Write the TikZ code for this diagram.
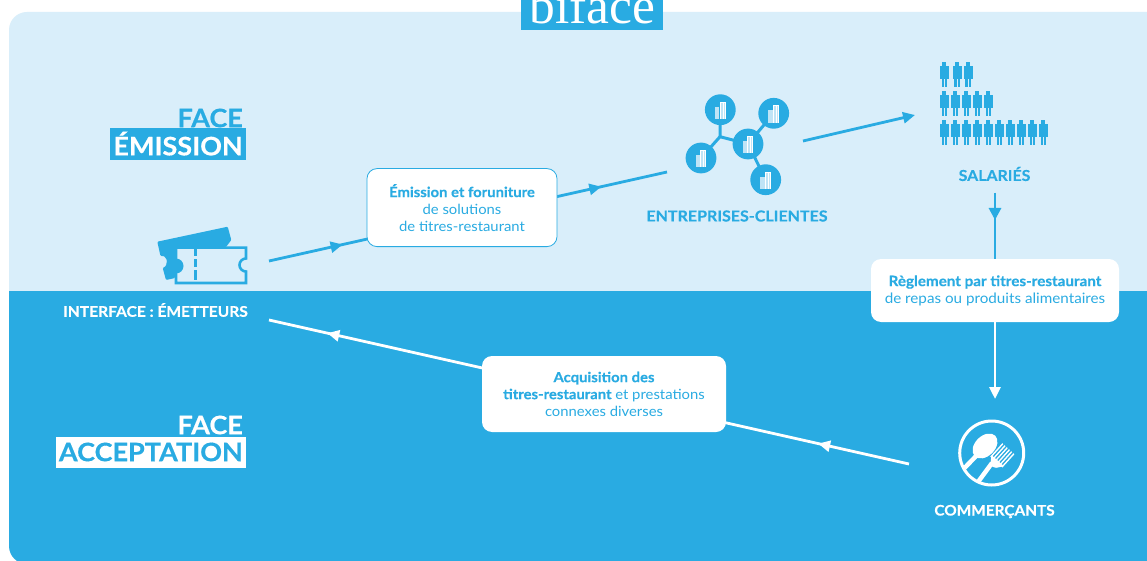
\documentclass[tikz,border=0pt]{standalone}
\usepackage{fontspec}
\setmainfont{Lato}[FakeStretch=1.06,BoldFeatures={FakeBold=0.35}]
\newfontfamily\logofont{Liberation Serif}
\usetikzlibrary{arrows.meta,decorations.markings,shapes.geometric}
\definecolor{lightb}{HTML}{D9EEFA}
\definecolor{mainb}{HTML}{29ABE2}
\definecolor{paleb}{HTML}{BFE4F6}
\tikzset{
  x=1pt,y=-1pt,
  flow/.style={line width=2.8pt,draw=#1},
  midarrow/.style 2 args={postaction={decorate,decoration={markings,mark=at position #1 with {\arrow[#2]{Triangle[length=12pt,width=11pt]}}}}},
  infobox/.style={rounded corners=10pt,fill=white,align=center,text=mainb,inner sep=0pt,font=\fontsize{14}{17}\selectfont},
  sidelabel/.style={font=\bfseries\fontsize{#1}{17}\selectfont,inner sep=0pt},
  facetitle/.style={font=\bfseries\fontsize{25.5}{30}\selectfont,inner sep=0pt,anchor=east},
  person/.pic={
    \fill[mainb] (-2,0) rectangle (2,4.5);
    \fill[mainb] (-4.5,4.5) rectangle (4.5,17.5);
    \fill[mainb] (-2.6,17.5) rectangle (-0.5,25.7);
    \fill[mainb] (0.5,17.5) rectangle (2.6,25.7);
  },
  building/.pic={
    \fill[paleb] (-5.3,-3) rectangle (-1.2,9.3);
    \fill[white] (-0.8,-8) rectangle (5.3,9.3);
    \fill[paleb] (0.4,-6.8) rectangle (2.4,9.3);
    \fill[paleb] (3.2,-6.8) rectangle (4.3,9.3);
  },
}
\begin{document}
\begin{tikzpicture}
\useasboundingbox (0,0) rectangle (1147,561);
\clip (0,0) rectangle (1147,561);
\fill[white] (0,0) rectangle (1147,561);
% panels
\begin{scope}
  \clip (0,0) rectangle (1147,291);
  \fill[lightb,rounded corners=18pt] (9,12) rectangle (1175,600);
\end{scope}
\begin{scope}
  \clip (0,291) rectangle (1147,561);
  \fill[mainb,rounded corners=18pt] (9,-20) rectangle (1175,564);
\end{scope}
% logo
\fill[mainb] (521,-5) rectangle (663,30);
\node[anchor=base,inner sep=0pt,text=white,font=\logofont\fontsize{51.5}{52}\selectfont] (logo) at (592.5,23.5) {biface};
% face titles
\node[facetitle,text=mainb] (faceA) at (243,118) {FACE};
\node[fill=mainb,text=white,facetitle,minimum height=32pt,inner xsep=3pt,anchor=east] (faceB) at (246,144) {\raisebox{1pt}{ÉMISSION}};
\node[facetitle,text=white] (faceC) at (243,425) {FACE};
\node[fill=white,text=mainb,facetitle,minimum height=31pt,inner xsep=3pt,anchor=east] (faceD) at (246,452) {ACCEPTATION};
% free ends
\coordinate (ticketOut) at (269,261);
\coordinate (clientsIn) at (667,172);
\coordinate (clientsOut) at (803,141);
\coordinate (salariesIn) at (915,115);
\coordinate (salariesOut) at (995,193);
\coordinate (salariesTip) at (995,220);
\coordinate (boxJoin) at (995,291);
\coordinate (shopIn) at (995,399);
\coordinate (shopOut) at (909,464);
\coordinate (ticketIn) at (269,320);
% connectors
\draw[flow=mainb,midarrow={0.185}{mainb},midarrow={0.835}{mainb}] (ticketOut) -- (clientsIn);
\draw[flow=mainb,-{Triangle[length=12pt,width=11pt]}] (clientsOut) -- (salariesIn);
\draw[flow=mainb] (salariesOut) -- (boxJoin);
\draw[flow=white,-{Triangle[length=12pt,width=11pt]}] (boxJoin) -- (shopIn);
\draw[flow=mainb,-{Triangle[length=12pt,width=12pt]}] (salariesOut) -- (salariesTip);
\draw[flow=white,midarrow={0.142}{white},midarrow={0.909}{white}] (shopOut) -- (ticketIn);
% boxes
\node[infobox,draw=mainb,line width=0.8pt,minimum width=190pt,minimum height=78pt] (box1) at (462,207.6) {\textbf{Émission et foruniture}\\de solutions\\de titres-restaurant};
\node[infobox,font=\fontsize{14.35}{17}\selectfont,minimum width=248pt,minimum height=63pt] (box2) at (995,290.5) {\textbf{Règlement par titres-restaurant}\\de repas ou produits alimentaires};
\node[infobox,minimum width=244pt,minimum height=76pt] (box3) at (604,394) {\textbf{Acquisition des}\\\textbf{titres-restaurant} et prestations\\connexes diverses};
% labels
\node[sidelabel=14.7,text=white] (emetteurs) at (155.5,310) {INTERFACE : ÉMETTEURS};
\node[sidelabel=15.1,text=mainb] (clients) at (737,216) {ENTREPRISES-CLIENTES};
\node[sidelabel=15,text=mainb] (salaries) at (994.5,174) {SALARIÉS};
\node[sidelabel=14.5,text=white] (commercants) at (994.5,511.5) {COMMERÇANTS};
% ticket icon
\fill[mainb,rounded corners=1pt] (157.3,241.7) -- (227.7,226.7) -- (231.3,240) -- (226,247) -- (175,247) -- (175,278) -- (166,280) -- (162.7,268) -- (166,266) -- (167,260) -- (164,256) -- (160.5,256) -- cycle;
\fill[lightb] (176,248.5) rectangle (245,282);
\draw[mainb,line width=2.6pt] (176,247.6) -- (246,247.6) -- (246,258.5) arc[start angle=-90,end angle=-270,radius=6.5] -- (246,283) -- (176,283) -- cycle;
\fill[mainb] (176,258.5) arc[start angle=-90,end angle=90,radius=7.5] -- cycle;
\draw[mainb,line width=3pt,dash pattern=on 9pt off 3pt on 8pt off 3pt on 10pt] (195,247) -- (195,283);
% network icon
\draw[mainb,line width=3pt] (720.3,109.7) -- (720,136.7) -- (748,144);
\draw[mainb,line width=3pt] (701,158) -- (720,136.7);
\draw[mainb,line width=3pt] (773.7,113.3) -- (748,144) -- (765.7,179.7);
\foreach \cx/\cy in {720.3/109.7,773.7/113.3,748/144,701/158,765.7/179.7}{
  \fill[mainb] (\cx,\cy) circle[radius=15.4];
  \pic at (\cx,\cy) {building};
}
% people
\foreach \px in {944.3,957,968} {\pic at (\px,61.7) {person};}
\foreach \px in {944.3,955.3,966.3,977.3,988.3} {\pic at (\px,90.7) {person};}
\foreach \k in {0,...,9} {\pic at ({944.3+11*\k},119.7) {person};}
% cutlery icon
\draw[white,line width=3pt] (991.7,453) circle[radius=32];
\fill[white,rotate around={45:(985,446)}] (985,446) ellipse[x radius=14.5,y radius=10];
\draw[white,line width=4.5pt] (979,453) -- (964.5,468);
\draw[white,line width=4.5pt] (992,463) -- (978,482);
\begin{scope}[shift={(994.3,464.3)},rotate=48]
  \fill[white,rounded corners=2pt] (-3,-2.5) -- (5,-8.5) -- (5,8.5) -- (-3,2.5) -- cycle;
  \foreach \t in {-7.5,-4.5,-1.5,1.5,4.5,7.5} {
    \draw[white,line width=1.4pt] (3,\t) -- (21,\t);
  }
\end{scope}
\end{tikzpicture}
\end{document}
